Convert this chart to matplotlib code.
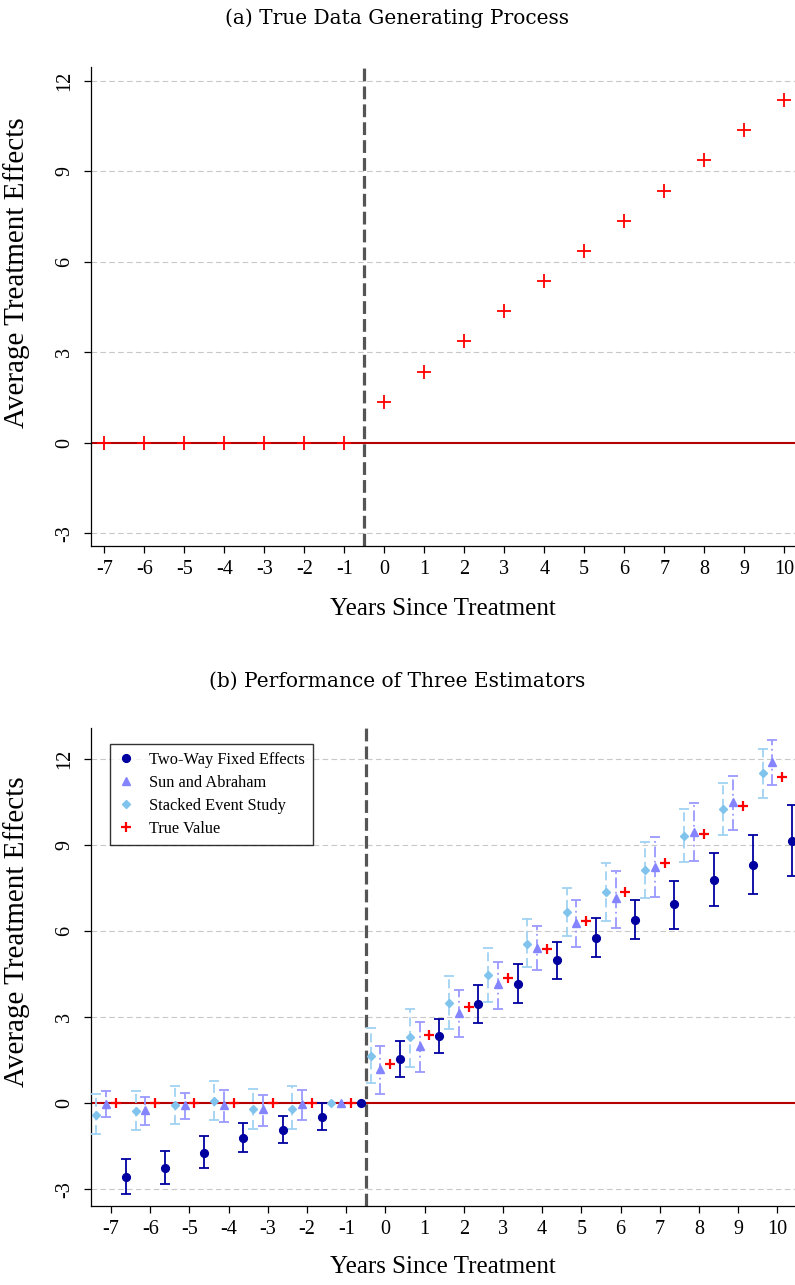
import matplotlib
matplotlib.use("Agg")
import matplotlib.pyplot as plt
import numpy as np

plt.rcParams['font.family'] = ['Liberation Serif', 'DejaVu Serif']

# event time
years = [-7, -6, -5, -4, -3, -2, -1, 0, 1, 2, 3, 4, 5, 6, 7, 8, 9, 10]

# true effects
true_val = [0, 0, 0, 0, 0, 0, 0, 1.36, 2.36, 3.36, 4.36, 5.36, 6.36, 7.36,
            8.36, 9.36, 10.36, 11.36]

# two-way fixed effects: estimate, lower, upper (year -1 is the reference)
twfe = [-2.56, -2.26, -1.72, -1.20, -0.92, -0.47, 0.0, 1.53, 2.35, 3.45,
        4.16, 4.97, 5.76, 6.38, 6.92, 7.78, 8.31, 9.14]
twfe_lo = [-3.16, -2.81, -2.27, -1.69, -1.38, -0.95, np.nan, 0.91, 1.76,
           2.79, 3.50, 4.33, 5.08, 5.72, 6.08, 6.86, 7.27, 7.93]
twfe_hi = [-1.95, -1.67, -1.16, -0.70, -0.44, 0.02, np.nan, 2.17, 2.94,
           4.12, 4.84, 5.60, 6.44, 7.06, 7.74, 8.70, 9.35, 10.37]

# Sun and Abraham
sa = [-0.02, -0.23, -0.06, -0.06, -0.19, -0.02, 0.0, 1.19, 1.98, 3.14,
      4.14, 5.41, 6.28, 7.14, 8.24, 9.45, 10.49, 11.88]
sa_lo = [-0.49, -0.77, -0.55, -0.64, -0.81, -0.58, np.nan, 0.33, 1.10,
         2.29, 3.29, 4.63, 5.43, 6.10, 7.17, 8.45, 9.53, 11.09]
sa_hi = [0.41, 0.23, 0.37, 0.47, 0.29, 0.47, np.nan, 2.00, 2.81, 3.93,
         4.93, 6.16, 7.09, 8.08, 9.26, 10.44, 11.40, 12.64]

# stacked event study
stk = [-0.41, -0.26, -0.06, 0.08, -0.19, -0.19, 0.0, 1.65, 2.29, 3.50,
       4.47, 5.55, 6.66, 7.36, 8.12, 9.32, 10.24, 11.49]
stk_lo = [-1.09, -0.93, -0.73, -0.59, -0.91, -0.91, np.nan, 0.70, 1.27,
          2.58, 3.51, 4.73, 5.81, 6.36, 7.13, 8.40, 9.34, 10.62]
stk_hi = [0.31, 0.44, 0.60, 0.76, 0.51, 0.60, np.nan, 2.62, 3.28, 4.42,
          5.41, 6.40, 7.50, 8.37, 9.09, 10.23, 11.16, 12.33]

yticks = [-3, 0, 3, 6, 9, 12]

C_TWFE = '#0000a0'
C_SA = '#8484ff'
C_SA_CI = '#9a9aff'
C_STK = '#80c4ee'
C_STK_CI = '#9fd2f2'
C_ZERO = '#b40000'

fig = plt.figure(figsize=(7.95, 12.85), dpi=100)
ax1 = fig.add_axes([0.1145, 0.5751, 0.8855, 0.3728])
ax2 = fig.add_axes([0.1145, 0.0611, 0.8855, 0.3724])


def style_axis(ax, xlim, ylim, ylab_y, xlab_y):
    ax.set_xlim(*xlim)
    ax.set_ylim(*ylim)
    ax.set_xticks(years)
    ax.set_xticklabels([str(v) for v in years])
    ax.set_yticks(yticks)
    ax.set_yticklabels([str(v) for v in yticks], rotation=90, va='center')
    ax.tick_params(axis='both', labelsize=14.5, length=5, width=0.9, direction='out')
    ax.tick_params(axis='y', pad=7)
    ax.tick_params(axis='x', pad=5)
    for s in ['top', 'right']:
        ax.spines[s].set_visible(False)
    for s in ['left', 'bottom']:
        ax.spines[s].set_linewidth(0.9)
    for t in yticks:
        if t != 0:
            ax.axhline(t, color='#c8c8c8', lw=0.8, dashes=(5, 3), zorder=0)
    ax.axhline(0, color=C_ZERO, lw=1.5, zorder=1)
    ax.axvline(-0.5, color='#555555', lw=2.3, dashes=(4, 1.6), zorder=1)
    ax.set_xlabel('Years Since Treatment', fontsize=18)
    ax.xaxis.set_label_coords(0.5, xlab_y)
    ax.set_ylabel('Average Treatment Effects', fontsize=21)
    ax.yaxis.set_label_coords(-0.087, ylab_y)


# ---- panel (a)
style_axis(ax1, (-7.33, 10.27), (-3.42, 12.46), 0.57, -0.108)
ax1.plot(years, true_val, linestyle='none', marker='+', ms=10, mew=1.3,
         color='#ff0000', zorder=3)
fig.text(0.499, 0.986, '(a) True Data Generating Process', ha='center',
         va='center', fontsize=14.5, family='DejaVu Serif')

# ---- panel (b)
style_axis(ax2, (-7.51, 10.45), (-3.6, 13.07), 0.575, -0.104)
yrs = np.array(years, dtype=float)


def draw_est(offset, est, lo, hi, color, ci_color, marker, ms, ls, label, z):
    est = np.array(est)
    lo = np.array(lo)
    hi = np.array(hi)
    ok = ~np.isnan(lo)
    x = yrs + offset
    eb = ax2.errorbar(x[ok], est[ok], yerr=[est[ok] - lo[ok], hi[ok] - est[ok]],
                      fmt='none', ecolor=ci_color, elinewidth=1.3, capsize=3.3,
                      capthick=1.3, zorder=z)
    eb[2][0].set_linestyle(ls)
    ax2.plot(x, est, linestyle='none', marker=marker, ms=ms, color=color,
             mec=color, label=label, zorder=z + 0.5)


draw_est(0.375, twfe, twfe_lo, twfe_hi, C_TWFE, C_TWFE, 'o', 5.6, '-',
         'Two-Way Fixed Effects', 5)
draw_est(-0.125, sa, sa_lo, sa_hi, C_SA, C_SA_CI, '^', 5.8, (0, (6, 2, 1, 2)),
         'Sun and Abraham', 4)
draw_est(-0.375, stk, stk_lo, stk_hi, C_STK, C_STK_CI, 'D', 4.2, (0, (5, 2.5)),
         'Stacked Event Study', 3)
ax2.plot(yrs + 0.125, true_val, linestyle='none', marker='+', ms=7, mew=1.6,
         color='#ff0000', label='True Value', zorder=6)

leg = ax2.legend(loc='upper left', bbox_to_anchor=(0.027, 0.967),
                 borderaxespad=0, fontsize=11.8, frameon=True, fancybox=False,
                 handlelength=1.0, handletextpad=0.9, labelspacing=0.42,
                 borderpad=0.5, markerscale=1.0)
leg.get_frame().set_edgecolor('black')
leg.get_frame().set_linewidth(1.0)

fig.text(0.499, 0.4695, '(b) Performance of Three Estimators', ha='center',
         va='center', fontsize=14.5, family='DejaVu Serif')

fig.savefig('out.png', dpi=100)
